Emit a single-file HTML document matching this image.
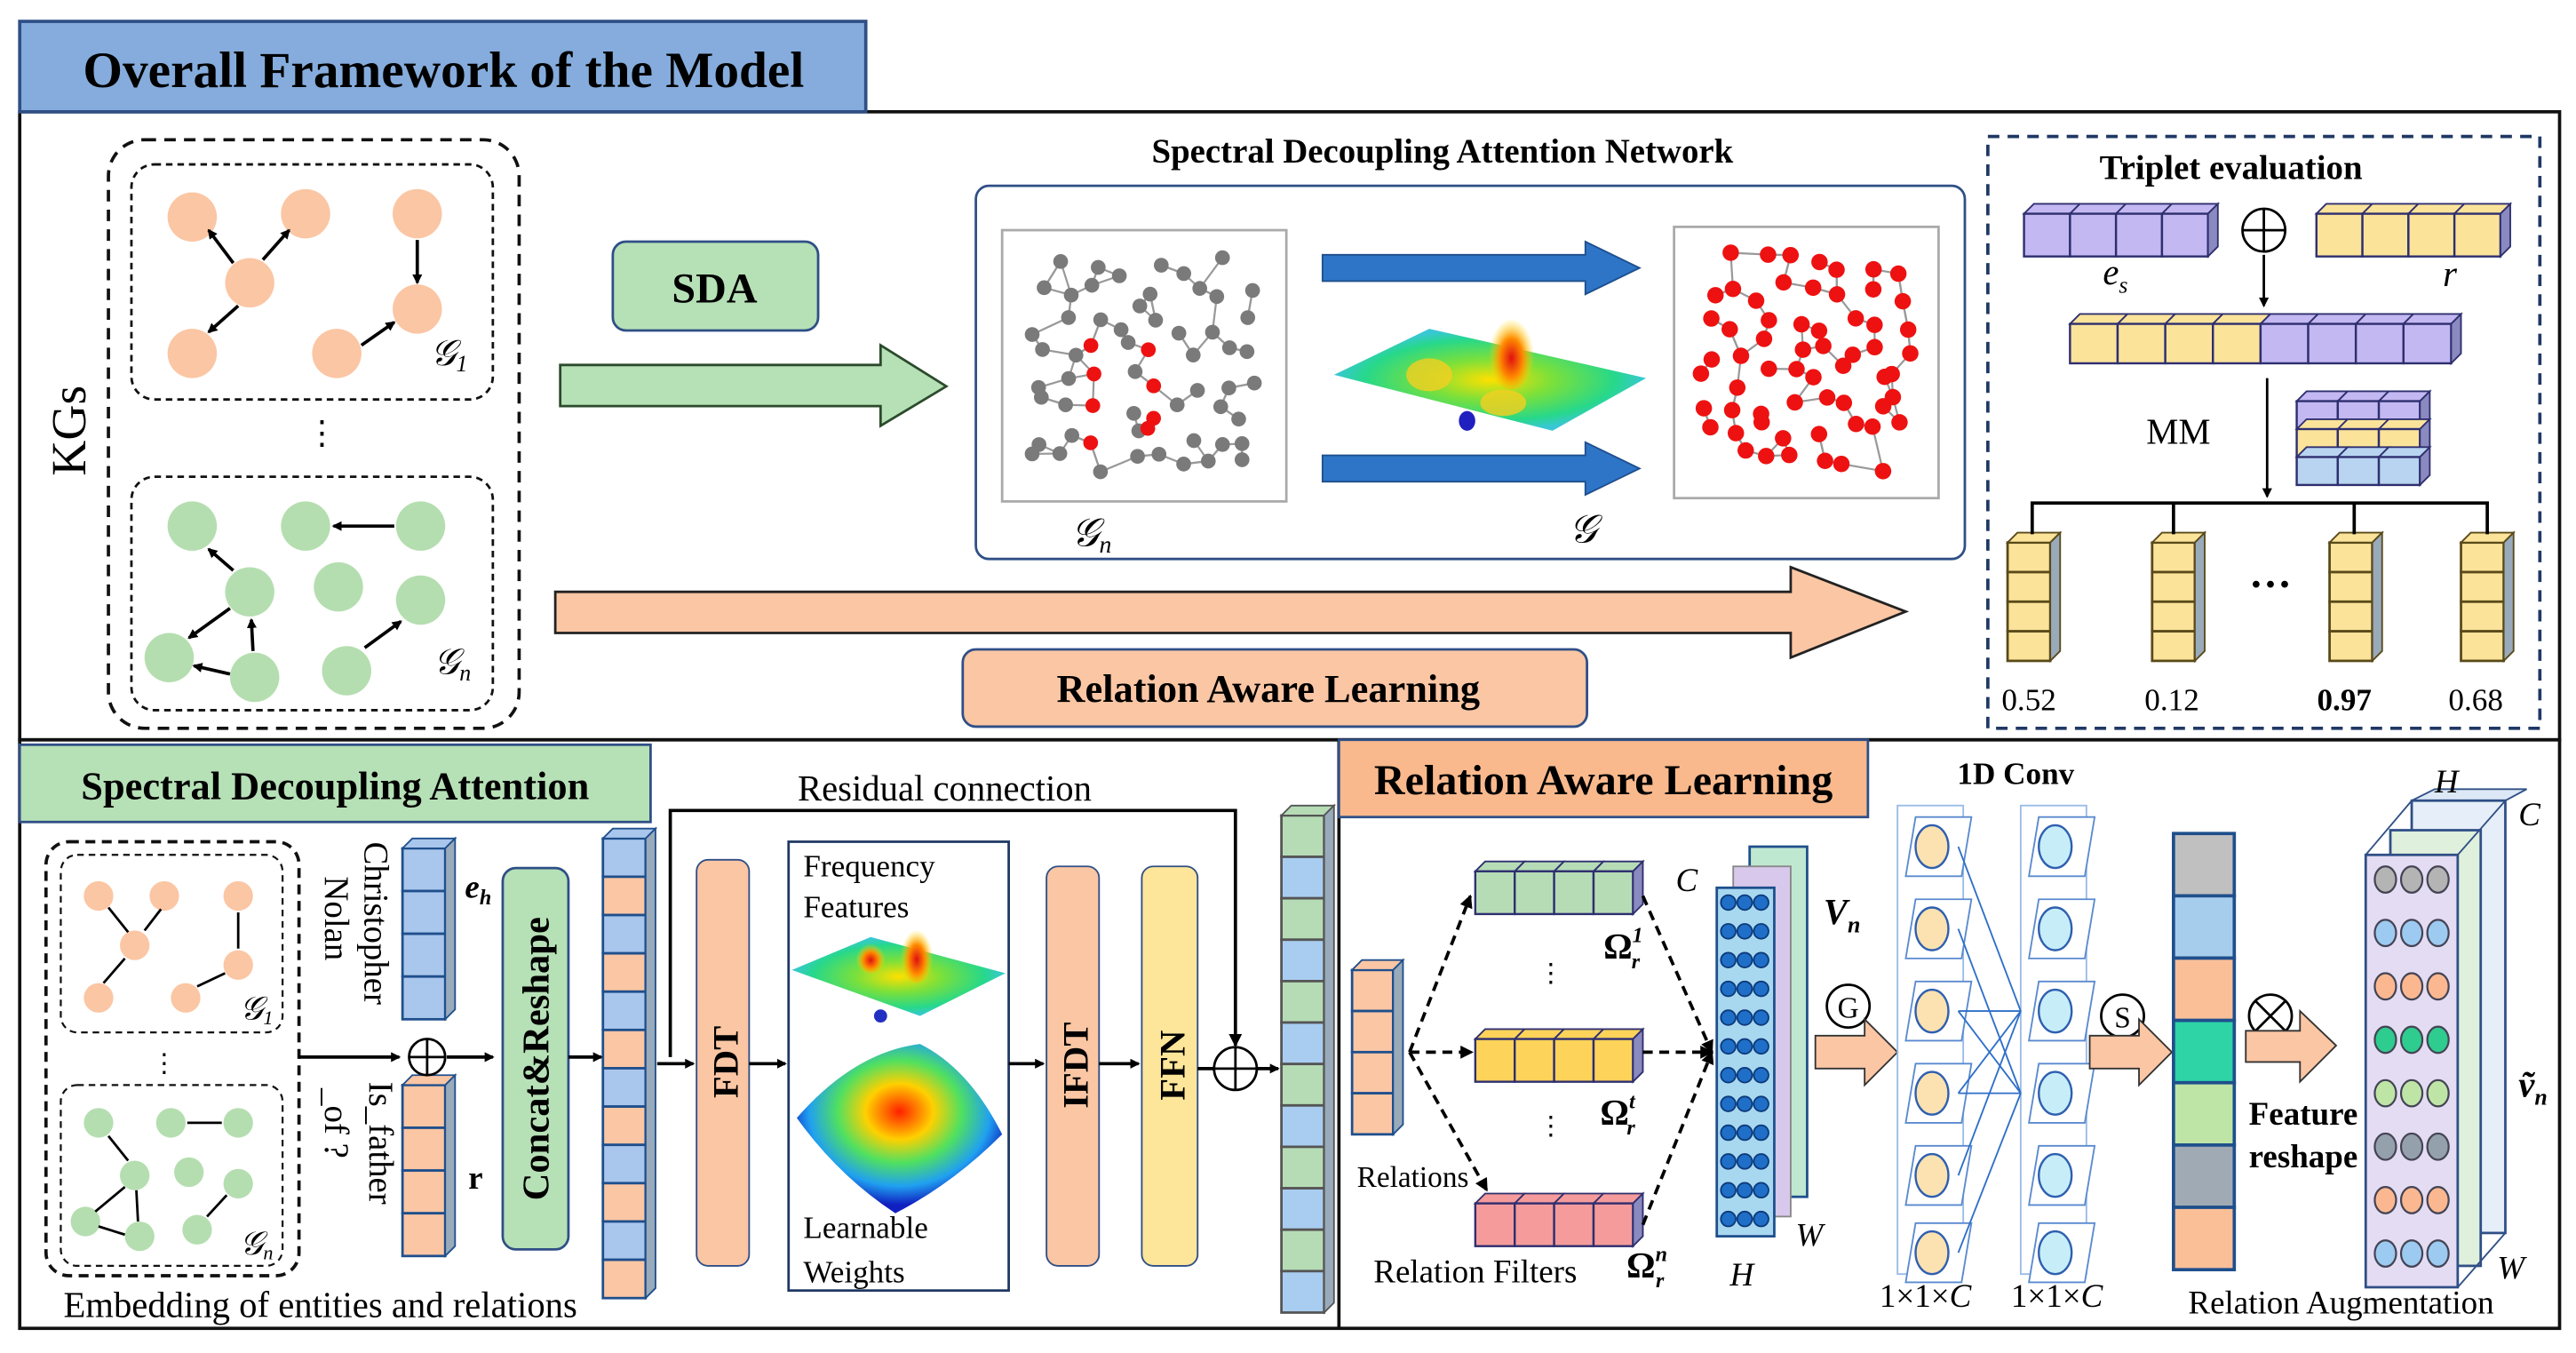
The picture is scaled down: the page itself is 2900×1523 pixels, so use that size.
<!DOCTYPE html>
<html><head><meta charset="utf-8"><style>
html,body{margin:0;padding:0;background:#fff;}
svg{display:block;}
text{font-family:"Liberation Serif",serif;}
</style></head><body>
<svg id="s" width="2900" height="1523" viewBox="0 0 1568 823" preserveAspectRatio="none" xmlns="http://www.w3.org/2000/svg">
<defs>
<marker id="ah" markerWidth="8" markerHeight="8" refX="7" refY="4" orient="auto" markerUnits="userSpaceOnUse"><path d="M0,0 L8,4 L0,8 z" fill="#000"/></marker>
<marker id="ahs" markerWidth="6" markerHeight="6" refX="5" refY="3" orient="auto" markerUnits="userSpaceOnUse"><path d="M0,0 L6,3 L0,6 z" fill="#000"/></marker>
<radialGradient id="surf" cx="50%" cy="50%" r="50%"><stop offset="0" stop-color="#ffe000"/><stop offset="0.4" stop-color="#7be03a"/><stop offset="0.8" stop-color="#27d88a"/><stop offset="1" stop-color="#39c7d6"/></radialGradient>
<radialGradient id="peak" cx="50%" cy="60%" r="50%"><stop offset="0" stop-color="#e01010"/><stop offset="0.5" stop-color="#ff8a00"/><stop offset="1" stop-color="#ffe000" stop-opacity="0"/></radialGradient>
<radialGradient id="surf2" cx="50%" cy="40%" r="55%"><stop offset="0" stop-color="#ff2000"/><stop offset="0.3" stop-color="#ffd000"/><stop offset="0.55" stop-color="#50e060"/><stop offset="0.8" stop-color="#20a0f0"/><stop offset="1" stop-color="#1020c0"/></radialGradient>
</defs>

<!-- ===== TOP ===== -->
<rect x="12" y="68" width="1546" height="382" fill="none" stroke="#111" stroke-width="2"/>
<rect x="12" y="13" width="515" height="55" fill="#85acdc" stroke="#2f4f86" stroke-width="2"/>
<text x="270" y="53" font-size="31" font-weight="bold" text-anchor="middle">Overall Framework of the Model</text>

<text transform="translate(52,262) rotate(-90)" font-size="30" text-anchor="middle">KGs</text>
<rect x="66" y="85" width="250" height="358" rx="22" fill="none" stroke="#111" stroke-width="2" stroke-dasharray="7,5"/>
<rect x="80" y="100" width="220" height="143" rx="14" fill="none" stroke="#111" stroke-width="1.5" stroke-dasharray="4,3"/>
<rect x="80" y="290" width="220" height="142" rx="14" fill="none" stroke="#111" stroke-width="1.5" stroke-dasharray="4,3"/>
<g fill="#fbc6a4">
<circle cx="117" cy="132" r="15"/><circle cx="186" cy="130" r="15"/><circle cx="254" cy="130" r="15"/><circle cx="152" cy="172" r="15"/><circle cx="254" cy="188" r="15"/><circle cx="117" cy="215" r="15"/><circle cx="205" cy="215" r="15"/>
</g>
<g stroke="#000" stroke-width="2" marker-end="url(#ahs)">
<line x1="142" y1="160" x2="127" y2="140"/><line x1="160" y1="158" x2="176" y2="140"/><line x1="254" y1="146" x2="254" y2="172"/><line x1="145" y1="186" x2="127" y2="202"/><line x1="220" y1="210" x2="240" y2="196"/>
</g>
<g fill="#b5deb0">
<circle cx="117" cy="320" r="15"/><circle cx="186" cy="320" r="15"/><circle cx="256" cy="320" r="15"/><circle cx="152" cy="360" r="15"/><circle cx="206" cy="357" r="15"/><circle cx="256" cy="365" r="15"/><circle cx="103" cy="400" r="15"/><circle cx="155" cy="412" r="15"/><circle cx="211" cy="408" r="15"/>
</g>
<g stroke="#000" stroke-width="2" marker-end="url(#ahs)">
<line x1="240" y1="320" x2="203" y2="320"/><line x1="142" y1="347" x2="127" y2="334"/><line x1="140" y1="370" x2="115" y2="388"/><line x1="154" y1="396" x2="153" y2="377"/><line x1="140" y1="410" x2="118" y2="405"/><line x1="222" y1="394" x2="244" y2="378"/>
</g>
<text x="196" y="270" font-size="20" text-anchor="middle">⋮</text>
<text x="262" y="222" font-size="22" font-style="italic">𝒢<tspan font-size="14" dy="4">1</tspan></text>
<text x="264" y="410" font-size="22" font-style="italic">𝒢<tspan font-size="14" dy="4">n</tspan></text>

<rect x="373" y="147" width="125" height="54" rx="8" fill="#b6e0b6" stroke="#2f4f86" stroke-width="1.5"/>
<text x="435" y="184" font-size="26" font-weight="bold" text-anchor="middle">SDA</text>
<path d="M341,222 L536,222 L536,210 L576,235 L536,259 L536,247 L341,247 z" fill="#b6e0b6" stroke="#2b4a2b" stroke-width="1.5"/>

<text x="878" y="99" font-size="21" font-weight="bold" text-anchor="middle">Spectral Decoupling Attention Network</text>
<rect x="594" y="113" width="602" height="227" rx="8" fill="#fff" stroke="#2f4f86" stroke-width="1.5"/>
<rect x="610" y="140" width="173" height="165" fill="#fff" stroke="#aaa" stroke-width="1.5"/>
<rect x="1019" y="138" width="161" height="165" fill="#fff" stroke="#aaa" stroke-width="1.5"/>
<g id="g1"></g><g id="g2"></g>
<path d="M805,155 L965,155 L965,147 L998,163 L965,179 L965,171 L805,171 z" fill="#2e75c8" stroke="#1f4f8c"/>
<path d="M805,277 L965,277 L965,269 L998,285 L965,301 L965,293 L805,293 z" fill="#2e75c8" stroke="#1f4f8c"/>
<path d="M812,228 L870,200 L1002,230 L945,262 z" fill="url(#surf)"/>
<ellipse cx="920" cy="213" rx="14" ry="24" fill="url(#peak)"/>
<ellipse cx="870" cy="228" rx="14" ry="10" fill="#f4d020" opacity="0.8"/>
<ellipse cx="915" cy="245" rx="14" ry="8" fill="#f4d020" opacity="0.8"/>
<ellipse cx="893" cy="256" rx="5" ry="6" fill="#2020c0"/>
<text x="652" y="332" font-size="24" font-style="italic">𝒢<tspan font-size="15" dy="4">n</tspan></text>
<text x="955" y="330" font-size="24" font-style="italic">𝒢</text>

<path d="M338,360 L1090,360 L1090,345 L1160,372 L1090,400 L1090,385 L338,385 z" fill="#fbc6a4" stroke="#222" stroke-width="1.5"/>
<rect x="586" y="395" width="380" height="47" rx="8" fill="#fbc6a4" stroke="#2f4f86" stroke-width="1.5"/>
<text x="772" y="427" font-size="24" font-weight="bold" text-anchor="middle">Relation Aware Learning</text>

<rect x="1210" y="83" width="336" height="360" fill="none" stroke="#1f3864" stroke-width="2" stroke-dasharray="7,5"/>
<text x="1358" y="109" font-size="21" font-weight="bold" text-anchor="middle">Triplet evaluation</text>
<g id="trip"></g>
<circle cx="1378" cy="140" r="13" fill="#fff" stroke="#000" stroke-width="1.5"/><line x1="1365" y1="140" x2="1391" y2="140" stroke="#000" stroke-width="1.5"/><line x1="1378" y1="127" x2="1378" y2="153" stroke="#000" stroke-width="1.5"/>
<text x="1280" y="173" font-size="22" font-style="italic">e<tspan font-size="14" dy="5">s</tspan></text>
<text x="1487" y="174" font-size="22" font-style="italic">r</text>
<line x1="1378" y1="155" x2="1378" y2="186" stroke="#000" stroke-width="1.5" marker-end="url(#ahs)"/>
<text x="1326" y="270" font-size="22" text-anchor="middle">MM</text>
<line x1="1380" y1="230" x2="1380" y2="302" stroke="#000" stroke-width="1.5" marker-end="url(#ahs)"/>
<path d="M1237,325 L1237,306 L1514,306 L1514,325 M1323,306 L1323,325 M1433,306 L1433,325" fill="none" stroke="#000" stroke-width="2"/>
<text x="1382" y="364" font-size="26" font-weight="bold" text-anchor="middle">···</text>
<text x="1235" y="432" font-size="19" text-anchor="middle">0.52</text>
<text x="1322" y="432" font-size="19" text-anchor="middle">0.12</text>
<text x="1427" y="432" font-size="19" font-weight="bold" text-anchor="middle">0.97</text>
<text x="1507" y="432" font-size="19" text-anchor="middle">0.68</text>

<!-- ===== BOTTOM ===== -->
<rect x="12" y="450" width="1546" height="358" fill="none" stroke="#111" stroke-width="2"/>
<line x1="815" y1="450" x2="815" y2="808" stroke="#111" stroke-width="2"/>
<rect x="12" y="453" width="384" height="47" fill="#b6e0b6" stroke="#2f4f86" stroke-width="1.5"/>
<text x="204" y="486" font-size="24" font-weight="bold" text-anchor="middle">Spectral Decoupling Attention</text>
<rect x="815" y="450" width="322" height="47" fill="#f9b98d" stroke="#2f4f86" stroke-width="1.5"/>
<text x="976" y="483" font-size="26" font-weight="bold" text-anchor="middle">Relation Aware Learning</text>

<rect x="28" y="512" width="154" height="264" rx="14" fill="none" stroke="#111" stroke-width="2" stroke-dasharray="6,4"/>
<rect x="37" y="520" width="135" height="108" rx="10" fill="none" stroke="#111" stroke-width="1.2" stroke-dasharray="4,3"/>
<rect x="37" y="660" width="135" height="110" rx="10" fill="none" stroke="#111" stroke-width="1.2" stroke-dasharray="4,3"/>
<g fill="#fbc6a4"><circle cx="60" cy="545" r="9"/><circle cx="100" cy="545" r="9"/><circle cx="145" cy="545" r="9"/><circle cx="82" cy="575" r="9"/><circle cx="145" cy="587" r="9"/><circle cx="60" cy="607" r="9"/><circle cx="113" cy="607" r="9"/></g>
<g fill="#b5deb0"><circle cx="60" cy="683" r="9"/><circle cx="104" cy="683" r="9"/><circle cx="145" cy="683" r="9"/><circle cx="82" cy="715" r="9"/><circle cx="115" cy="713" r="9"/><circle cx="145" cy="720" r="9"/><circle cx="52" cy="743" r="9"/><circle cx="85" cy="752" r="9"/><circle cx="120" cy="748" r="9"/></g>
<g stroke="#000" stroke-width="1.5"><line x1="78" y1="567" x2="66" y2="552"/><line x1="88" y1="566" x2="98" y2="553"/><line x1="145" y1="555" x2="145" y2="577"/><line x1="76" y1="583" x2="63" y2="598"/><line x1="120" y1="600" x2="137" y2="592"/><line x1="135" y1="683" x2="114" y2="683"/><line x1="78" y1="706" x2="66" y2="691"/><line x1="76" y1="722" x2="58" y2="737"/><line x1="84" y1="743" x2="83" y2="724"/><line x1="76" y1="751" x2="60" y2="746"/><line x1="126" y1="740" x2="138" y2="727"/></g>
<text x="100" y="652" font-size="16" text-anchor="middle">⋮</text>
<text x="146" y="620" font-size="20" font-style="italic">𝒢<tspan font-size="12" dy="3">1</tspan></text>
<text x="146" y="763" font-size="20" font-style="italic">𝒢<tspan font-size="12" dy="3">n</tspan></text>
<text x="195" y="801" font-size="22" text-anchor="middle">Embedding of entities and relations</text>

<g id="cols"></g>
<text transform="translate(222,512) rotate(90)" font-size="21">Christopher</text>
<text transform="translate(198,533) rotate(90)" font-size="21">Nolan</text>
<text transform="translate(225,658) rotate(90)" font-size="21">Is_father</text>
<text transform="translate(198,662) rotate(90)" font-size="21">_of ?</text>
<text x="283" y="546" font-size="20" font-weight="bold" font-style="italic">e<tspan font-size="13" dy="4">h</tspan></text>
<text x="285" y="723" font-size="20" font-weight="bold">r</text>
<line x1="182" y1="643" x2="243" y2="643" stroke="#000" stroke-width="2" marker-end="url(#ahs)"/>
<circle cx="260" cy="643" r="11" fill="#fff" stroke="#000" stroke-width="1.5"/><line x1="249" y1="643" x2="271" y2="643" stroke="#000" stroke-width="1.5"/><line x1="260" y1="632" x2="260" y2="654" stroke="#000" stroke-width="1.5"/>
<line x1="272" y1="643" x2="300" y2="643" stroke="#000" stroke-width="2" marker-end="url(#ahs)"/>
<rect x="306" y="528" width="40" height="232" rx="8" fill="#b6e0b6" stroke="#2f4f86" stroke-width="1.5"/>
<text transform="translate(334,644) rotate(-90)" font-size="23" font-weight="bold" text-anchor="middle">Concat&amp;Reshape</text>
<line x1="346" y1="643" x2="366" y2="643" stroke="#000" stroke-width="2" marker-end="url(#ahs)"/>

<path d="M408,643 L408,493 L752,493 L752,636" fill="none" stroke="#000" stroke-width="2" marker-end="url(#ah)"/>
<text x="575" y="487" font-size="22" text-anchor="middle">Residual connection</text>
<line x1="400" y1="647" x2="422" y2="647" stroke="#000" stroke-width="2" marker-end="url(#ahs)"/>
<rect x="424" y="523" width="32" height="247" rx="7" fill="#fbc6a4" stroke="#2f4f86" stroke-width="1"/>
<text transform="translate(449,646) rotate(-90)" font-size="22" font-weight="bold" text-anchor="middle">FDT</text>
<line x1="456" y1="647" x2="478" y2="647" stroke="#000" stroke-width="2" marker-end="url(#ahs)"/>
<rect x="480" y="512" width="134" height="273" fill="#fff" stroke="#1f3864" stroke-width="1.5"/>
<text x="489" y="533" font-size="19">Frequency</text>
<text x="489" y="558" font-size="19">Features</text>
<text x="489" y="753" font-size="19">Learnable</text>
<text x="489" y="780" font-size="19">Weights</text>
<path d="M482,590 L530,570 L612,592 L560,618 z" fill="url(#surf)"/>
<ellipse cx="558" cy="580" rx="10" ry="18" fill="url(#peak)"/>
<ellipse cx="530" cy="582" rx="9" ry="10" fill="url(#peak)"/>
<ellipse cx="536" cy="618" rx="4" ry="4" fill="#2030c0"/>
<text x="556" y="650" font-size="18" fill="#2f4f86" text-anchor="middle">✖</text>
<path d="M485,680 Q520,640 560,635 Q590,650 610,690 Q580,720 545,738 Q510,715 485,680 z" fill="url(#surf2)"/>
<line x1="614" y1="647" x2="635" y2="647" stroke="#000" stroke-width="2" marker-end="url(#ahs)"/>
<rect x="637" y="527" width="32" height="243" rx="7" fill="#fbc6a4" stroke="#2f4f86" stroke-width="1"/>
<text transform="translate(662,648) rotate(-90)" font-size="22" font-weight="bold" text-anchor="middle">IFDT</text>
<line x1="669" y1="647" x2="693" y2="647" stroke="#000" stroke-width="2" marker-end="url(#ahs)"/>
<rect x="695" y="527" width="34" height="243" rx="7" fill="#fde59a" stroke="#2f4f86" stroke-width="1"/>
<text transform="translate(721,648) rotate(-90)" font-size="22" font-weight="bold" text-anchor="middle">FFN</text>
<line x1="729" y1="650" x2="739" y2="650" stroke="#000" stroke-width="2"/>
<circle cx="752" cy="650" r="13" fill="#fff" stroke="#000" stroke-width="1.5"/><line x1="739" y1="650" x2="765" y2="650" stroke="#000" stroke-width="1.5"/><line x1="752" y1="637" x2="752" y2="663" stroke="#000" stroke-width="1.5"/>
<line x1="765" y1="650" x2="778" y2="650" stroke="#000" stroke-width="2" marker-end="url(#ahs)"/>

<!-- right bottom -->
<g stroke="#000" stroke-width="2" stroke-dasharray="6,4" fill="none">
<line x1="858" y1="640" x2="895" y2="545" marker-end="url(#ah)"/>
<line x1="858" y1="640" x2="896" y2="640" marker-end="url(#ah)"/>
<line x1="858" y1="640" x2="905" y2="724" marker-end="url(#ah)"/>
<line x1="1000" y1="545" x2="1042" y2="640" marker-end="url(#ah)"/>
<line x1="1000" y1="640" x2="1042" y2="640" marker-end="url(#ah)"/>
<line x1="1000" y1="745" x2="1042" y2="640" marker-end="url(#ah)"/>
</g>
<text x="826" y="722" font-size="18">Relations</text>
<text x="898" y="780" font-size="20" text-anchor="middle">Relation Filters</text>
<text x="944" y="597" font-size="16" text-anchor="middle">⋮</text>
<text x="944" y="690" font-size="16" text-anchor="middle">⋮</text>
<text x="976" y="583" font-size="22" font-weight="bold">Ω<tspan font-size="13" dy="-10" font-style="italic">1</tspan><tspan font-size="13" dx="-7" dy="16" font-style="italic">r</tspan></text>
<text x="974" y="684" font-size="22" font-weight="bold">Ω<tspan font-size="13" dy="-10" font-style="italic">t</tspan><tspan font-size="13" dx="-5" dy="16" font-style="italic">r</tspan></text>
<text x="990" y="777" font-size="22" font-weight="bold">Ω<tspan font-size="13" dy="-10" font-style="italic">n</tspan><tspan font-size="13" dx="-7" dy="16" font-style="italic">r</tspan></text>
<text x="1020" y="542" font-size="20" font-style="italic">C</text>
<rect x="1065" y="515" width="35" height="213" fill="#bfe8d0" stroke="#1f4f8c" stroke-width="1.5"/>
<rect x="1055" y="527" width="35" height="213" fill="#d8c8ec" stroke="#888" stroke-width="1"/>
<rect x="1045" y="540" width="35" height="212" fill="#a8d8f0" stroke="#1f4f8c" stroke-width="1.5"/>
<g id="vn"></g>
<text x="1110" y="562" font-size="22" font-weight="bold" font-style="italic">V<tspan font-size="14" dy="5">n</tspan></text>
<text x="1053" y="782" font-size="20" font-style="italic">H</text>
<text x="1093" y="758" font-size="20" font-style="italic">W</text>
<circle cx="1125" cy="612" r="13" fill="#fff" stroke="#000" stroke-width="1.5"/><text x="1125" y="619" font-size="18" text-anchor="middle">G</text>
<path d="M1105,630 L1135,630 L1135,620 L1155,640 L1135,660 L1135,650 L1105,650 z" fill="#fbc6a4" stroke="#333"/>
<text x="1227" y="477" font-size="19" font-weight="bold" text-anchor="middle">1D Conv</text>
<g id="conv"></g>
<text x="1172" y="795" font-size="20" text-anchor="middle">1×1×<tspan font-style="italic">C</tspan></text>
<text x="1252" y="795" font-size="20" text-anchor="middle">1×1×<tspan font-style="italic">C</tspan></text>
<circle cx="1292" cy="618" r="13" fill="#fff" stroke="#000" stroke-width="1.5"/><text x="1292" y="625" font-size="18" text-anchor="middle">S</text>
<path d="M1272,630 L1302,630 L1302,620 L1322,640 L1302,660 L1302,650 L1272,650 z" fill="#fbc6a4" stroke="#333"/>
<g id="bar"></g>
<circle cx="1382" cy="618" r="13" fill="#fff" stroke="#000" stroke-width="1.5"/><line x1="1373" y1="609" x2="1391" y2="627" stroke="#000" stroke-width="1.5"/><line x1="1391" y1="609" x2="1373" y2="627" stroke="#000" stroke-width="1.5"/>
<path d="M1367,627 L1400,627 L1400,615 L1422,636 L1400,658 L1400,646 L1367,646 z" fill="#fbc6a4" stroke="#333"/>
<text x="1402" y="684" font-size="20" font-weight="bold" text-anchor="middle">Feature</text>
<text x="1402" y="710" font-size="20" font-weight="bold" text-anchor="middle">reshape</text>
<path d="M1468,487 L1482,480 L1538,480 L1525,487 z" fill="#dde8f6" stroke="#2f4f86"/>
<rect x="1468" y="487" width="57" height="263" fill="#e6eef9" stroke="#2f4f86" stroke-width="1.5"/>
<rect x="1455" y="505" width="55" height="265" fill="#dff0dc" stroke="#2f4f86" stroke-width="1.5"/>
<rect x="1440" y="520" width="56" height="263" fill="#e4dcf2" stroke="#2f4f86" stroke-width="1.5"/>
<line x1="1440" y1="520" x2="1468" y2="487" stroke="#2f4f86"/><line x1="1496" y1="520" x2="1525" y2="487" stroke="#2f4f86"/><line x1="1496" y1="783" x2="1525" y2="750" stroke="#2f4f86"/>
<g id="aug"></g>
<text x="1482" y="482" font-size="20" font-style="italic">H</text>
<text x="1533" y="502" font-size="20" font-style="italic">C</text>
<text x="1533" y="667" font-size="22" font-weight="bold" font-style="italic">ṽ<tspan font-size="14" dy="5">n</tspan></text>
<text x="1520" y="778" font-size="20" font-style="italic">W</text>
<text x="1425" y="799" font-size="20" text-anchor="middle">Relation Augmentation</text>
</svg>
<script>
var NS="http://www.w3.org/2000/svg";
function el(p,t,a){var e=document.createElementNS(NS,t);for(var k in a)e.setAttribute(k,a[k]);p.appendChild(e);return e;}
var seed=7;function rnd(){seed=(seed*9301+49297)%233280;return seed/233280;}
function graph(id,x0,y0,w,h,cols,rows,redAll){
 var g=document.getElementById(id),pts=[];
 var cx=x0+w/2,cy=y0+h/2;
 for(var r=0;r<rows;r++)for(var c=0;c<cols;c++){
  var px=x0+14+(c+0.5)*(w-28)/cols+(rnd()-0.5)*(w-28)/cols*0.8;
  var py=y0+14+(r+0.5)*(h-28)/rows+(rnd()-0.5)*(h-28)/rows*0.8;
  var dx=(px-cx)/(w/2),dy=(py-cy)/(h/2);
  if(dx*dx+dy*dy>1.05)continue;
  pts.push([px,py]);}
 var n=pts.length;
 for(var i=0;i<n;i++){var b=-1,bd=1e9,c=-1,cd=1e9;for(var j=0;j<n;j++){if(i==j)continue;var d=Math.hypot(pts[i][0]-pts[j][0],pts[i][1]-pts[j][1]);if(d<bd){cd=bd;c=b;bd=d;b=j}else if(d<cd){cd=d;c=j}}
 el(g,"line",{x1:pts[i][0],y1:pts[i][1],x2:pts[b][0],y2:pts[b][1],stroke:"#999","stroke-width":1.2});
 if(i%2==0)el(g,"line",{x1:pts[i][0],y1:pts[i][1],x2:pts[c][0],y2:pts[c][1],stroke:"#999","stroke-width":1.2});}
 for(var i=0;i<n;i++){var red=redAll||(pts[i][0]<x0+w*0.55&&pts[i][0]>x0+w*0.2&&pts[i][1]>y0+h*0.4&&pts[i][1]<y0+h*0.8&&i%2==0);
 el(g,"circle",{cx:pts[i][0],cy:pts[i][1],r:redAll?5:4.5,fill:red?"#ee1111":"#7a7a7a"});}
}
graph("g1",610,140,173,165,8,8,false);
graph("g2",1019,138,161,165,8,8,true);
function cube(g,x,y,w,h,fill,side,st){el(g,"rect",{x:x,y:y,width:w,height:h,fill:fill,stroke:st||"#1f4f8c","stroke-width":1.3});}
function hbar(g,x,y,cw,h,n,fills,top){
 for(var i=0;i<n;i++){var f=fills[i%fills.length];
 el(g,"path",{d:"M"+(x+i*cw)+","+y+" l6,-6 l"+cw+",0 l-6,6 z",fill:top||f,stroke:"#2f2f6f","stroke-width":1});
 cube(g,x+i*cw,y,cw,h,f,null,"#2f2f6f");}
 el(g,"path",{d:"M"+(x+n*cw)+","+y+" l6,-6 l0,"+h+" l-6,6 z",fill:"#8a8ac0",stroke:"#2f2f6f","stroke-width":1});
}
var t=document.getElementById("trip");
hbar(t,1232,130,28,26,4,["#c3b8f2"]);
hbar(t,1410,130,28,26,4,["#fbe39a"]);
hbar(t,1260,197,29,24,8,["#fbe39a","#fbe39a","#fbe39a","#fbe39a","#c3b8f2","#c3b8f2","#c3b8f2","#c3b8f2"]);
hbar(t,1398,244,25,17,3,["#c3b8f2"]);hbar(t,1398,261,25,17,3,["#fbe39a"]);hbar(t,1398,278,25,17,3,["#b8d4f0"]);
function vcol(g,x,y,w,ch,n,fills,st){for(var i=0;i<n;i++){el(g,"rect",{x:x,y:y+i*ch,width:w,height:ch,fill:fills[i%fills.length],stroke:st||"#1f4f8c","stroke-width":1.5});}
 el(g,"path",{d:"M"+x+","+y+" l6,-6 l"+w+",0 l-6,6 z",fill:fills[0],stroke:st||"#1f4f8c"});
 el(g,"path",{d:"M"+(x+w)+","+y+" l6,-6 l0,"+(n*ch)+" l-6,6 z",fill:"#9ab",stroke:st||"#1f4f8c"});}
[1222,1310,1418,1498].forEach(function(x){vcol(t,x,330,26,18,4,["#fbe39a"],"#5a4a1a");});
var c=document.getElementById("cols");
vcol(c,245,516,26,26,4,["#a9c6ec"]);
vcol(c,245,660,26,26,4,["#fbc6a4"]);
vcol(c,367,510,26,23.3,12,["#a9c6ec","#fbc6a4"]);
vcol(c,780,496,26,25.2,12,["#b6dcb6","#a9cdf0"],"#555");
vcol(c,823,590,25,25,4,["#fbc6a4"]);
hbar(c,898,530,24,26,4,["#b6dcb6"]);
hbar(c,898,632,24,26,4,["#fdd35a"]);
hbar(c,898,732,24,26,4,["#f59b9b"]);
var v=document.getElementById("vn");
for(var r=0;r<12;r++)for(var k=0;k<3;k++)el(v,"circle",{cx:1052+k*10,cy:549+r*17.5,r:4.5,fill:"#1f6fc8",stroke:"#0d3a7a"});
var cv=document.getElementById("conv");
var ys=[515,565,615,665,715,762];
[1155,1230].forEach(function(x,ci){
 el(cv,"rect",{x:x,y:490,width:40,height:285,fill:"none",stroke:"#9bbbe6","stroke-width":1});
 ys.forEach(function(y){el(cv,"path",{d:"M"+(x+5)+","+(y+18)+" l6,-36 l34,0 l-6,36 z",fill:"#fff",stroke:"#5a8ad0","stroke-width":1});
 el(cv,"ellipse",{cx:x+21,cy:y,rx:10,ry:13,fill:ci?"#c7eef8":"#fbe2b0",stroke:"#2f5fb0","stroke-width":1.3});});
});
[[0,2],[1,3],[2,2],[3,3],[2,3],[3,2],[4,2],[5,3]].forEach(function(p){el(cv,"line",{x1:1192,y1:ys[p[0]],x2:1230,y2:ys[p[1]],stroke:"#2f6fc8","stroke-width":1});});
var b=document.getElementById("bar");
["#c0c0c0","#a6cdeb","#fbbf98","#2ed3a6","#bfe5a6","#a0aab4","#fbbf98"].forEach(function(f,i){el(b,"rect",{x:1323,y:507+i*37.9,width:37,height:37.9,fill:f,stroke:"#1f4f8c","stroke-width":2});});
var a=document.getElementById("aug");
["#b4b4b4","#9dcaf0","#fbb890","#2ecc8e","#bfe5a6","#95a0ad","#fbb890","#9dcaf0"].forEach(function(f,i){for(var k=0;k<3;k++)el(a,"ellipse",{cx:1452+k*16,cy:535+i*32.5,rx:6.5,ry:8,fill:f,stroke:"#445","stroke-width":1.2});});
</script>
</body></html>
